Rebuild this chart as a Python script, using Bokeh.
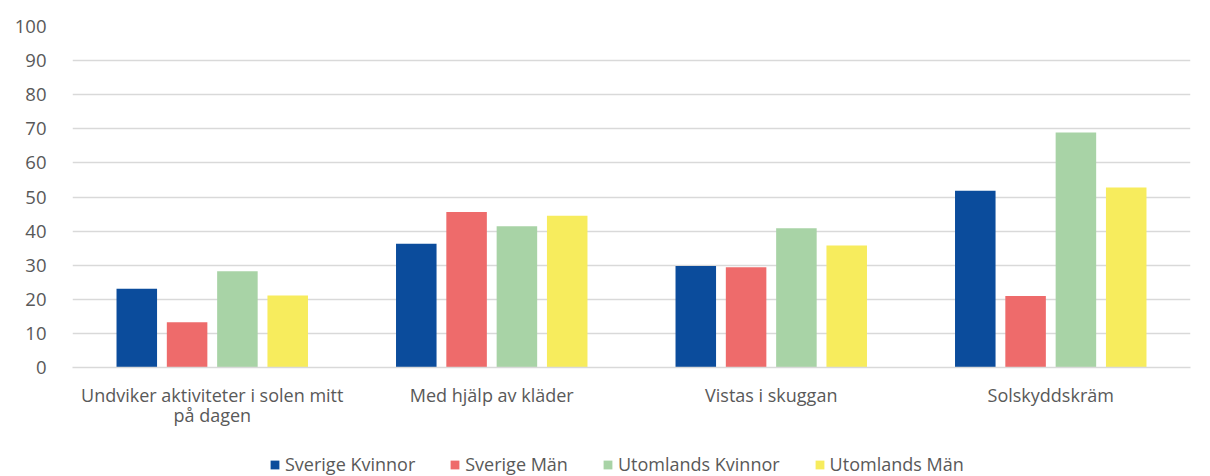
from bokeh.plotting import figure
from bokeh.models import ColumnDataSource, FactorRange, Legend, LegendItem, SingleIntervalTicker, Range1d
from bokeh.layouts import column
from bokeh.transform import dodge
from bokeh.embed import file_html
from bokeh.resources import INLINE

categories = ["Undviker aktiviteter i solen mitt\npå dagen", "Med hjälp av kläder", "Vistas i skuggan", "Solskyddskräm"]
series_names = ["Sverige Kvinnor", "Sverige Män", "Utomlands Kvinnor", "Utomlands Män"]
sverige_kvinnor = [23.1, 36.3, 29.8, 51.8]
sverige_man = [13.3, 45.6, 29.4, 21.0]
utomlands_kvinnor = [28.2, 41.4, 40.8, 68.9]
utomlands_man = [21.1, 44.5, 35.8, 52.8]
colors = ["#0B4C9C", "#EE6B6B", "#A8D3A6", "#F7EC5D"]

source = ColumnDataSource(dict(cat=categories, s0=sverige_kvinnor, s1=sverige_man,
                               s2=utomlands_kvinnor, s3=utomlands_man))

FONT = "Open Sans"
TXT = "#595959"

p = figure(x_range=FactorRange(*categories), y_range=(0, 100), width=1210, height=444,
           output_backend="svg", toolbar_location=None,
           min_border_left=72, min_border_right=20, min_border_top=26, min_border_bottom=77)
p.outline_line_color = None

offsets = [-0.27, -0.09, 0.09, 0.27]
for i, col in enumerate(colors):
    p.vbar(x=dodge("cat", offsets[i], range=p.x_range), top=f"s{i}", width=0.145,
           source=source, fill_color=col, line_color=None)

p.yaxis.ticker = SingleIntervalTicker(interval=10)
p.yaxis.axis_line_color = None
p.yaxis.major_tick_line_color = None
p.yaxis.minor_tick_line_color = None
p.yaxis.major_label_text_font = FONT
p.yaxis.major_label_text_font_size = "18.5px"
p.yaxis.major_label_text_color = TXT
p.yaxis.major_label_standoff = 20

p.xaxis.axis_line_color = "#d9d9d9"
p.xaxis.axis_line_width = 1.5
p.xaxis.major_tick_line_color = None
p.xaxis.minor_tick_line_color = None
p.xaxis.major_label_text_font = FONT
p.xaxis.major_label_text_font_size = "18px"
p.xaxis.major_label_text_color = TXT
p.xaxis.major_label_text_line_height = 0.86
p.xaxis.major_label_standoff = 9

p.xgrid.grid_line_color = None
p.ygrid.grid_line_color = "#d9d9d9"
p.ygrid.grid_line_width = 1.5

# legend strip (bars kept out of view; only the legend shows)
lg = figure(x_range=p.x_range, y_range=Range1d(1000, 1001), width=1210, height=32,
            output_backend="svg", toolbar_location=None,
            x_axis_location=None, y_axis_location=None,
            min_border_left=0, min_border_right=0, min_border_top=0, min_border_bottom=0)
lg.outline_line_color = None
lg.grid.visible = False
items = []
for i, (name, col) in enumerate(zip(series_names, colors)):
    r = lg.vbar(x="cat", top=f"s{i}", width=0.1, source=source, fill_color=col, line_color=None)
    items.append(LegendItem(label=name, renderers=[r]))

legend = Legend(items=items, orientation="horizontal", location=(197, 0),
                label_text_font=FONT, label_text_font_size="18px", label_text_color=TXT,
                glyph_width=11, glyph_height=11, spacing=34, label_standoff=5,
                border_line_color=None, background_fill_alpha=0, padding=0, margin=0)
lg.add_layout(legend, "center")

layout = column(p, lg, spacing=0)
html = file_html(layout, INLINE)
open("out.html", "w").write(html)
